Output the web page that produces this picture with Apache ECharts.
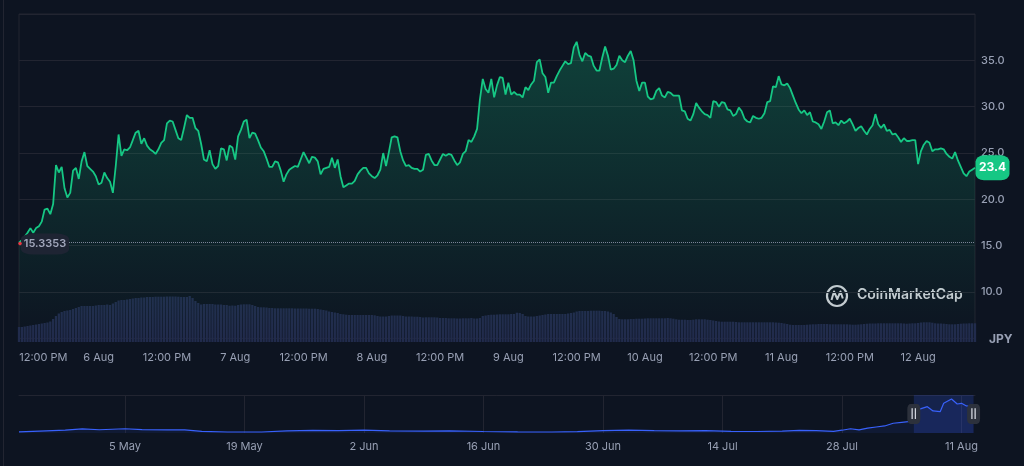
<!DOCTYPE html>
<html>
<head>
<meta charset="utf-8">
<title>JPY price chart</title>
<script src="https://cdn.jsdelivr.net/npm/echarts@6/dist/echarts.min.js"></script>
<style>
  html, body { margin: 0; padding: 0; background: #0d1421; }
  #chart { width: 1024px; height: 466px; }
</style>
</head>
<body>
<div id="chart"></div>
<script>
// price in JPY, one point every 30 min, 5 Aug 10:00 -> 12 Aug 10:00
var price = [
  15.34, 15.6, 16.0, 16.4, 16.9, 16.4, 16.9, 17.1, 17.6, 18.9,
  19.0, 18.4, 19.5, 23.7, 22.9, 23.5, 21.2, 20.2, 20.7, 23.1,
  23.4, 22.2, 24.1, 25.1, 23.6, 23.3, 23.0, 22.5, 21.6, 21.8,
  22.9, 22.3, 21.9, 20.7, 23.6, 27.0, 24.7, 25.4, 25.3, 25.6,
  26.4, 27.2, 27.4, 26.0, 26.6, 25.8, 25.4, 25.2, 24.9, 25.4,
  26.1, 26.4, 28.2, 28.5, 28.4, 27.5, 26.6, 26.4, 27.7, 29.1,
  28.8, 28.8, 27.7, 27.4, 26.0, 24.3, 24.1, 25.3, 23.8, 23.3,
  23.6, 25.5, 25.4, 24.2, 25.8, 25.6, 24.3, 26.8, 27.5, 28.4,
  28.6, 26.6, 27.2, 27.1, 26.4, 25.6, 25.2, 24.4, 23.5, 23.5,
  24.1, 24.0, 23.1, 21.9, 22.7, 23.2, 23.4, 23.6, 23.5, 24.3,
  25.1, 24.5, 23.9, 24.6, 24.5, 24.1, 22.7, 23.3, 23.4, 23.5,
  24.5, 23.4, 24.3, 22.5, 21.3, 21.5, 21.7, 21.7, 22.0, 22.7,
  23.1, 23.4, 23.4, 22.8, 22.5, 22.3, 22.6, 23.2, 25.0, 23.6,
  25.1, 26.7, 26.8, 26.7, 25.2, 24.2, 23.6, 23.7, 23.4, 23.3,
  23.3, 23.0, 23.2, 24.8, 24.9, 24.2, 23.7, 23.7, 24.3, 24.9,
  24.7, 24.9, 24.8, 24.2, 23.7, 24.0, 24.9, 25.2, 26.4, 26.2,
  26.8, 27.6, 30.8, 33.0, 31.9, 31.5, 33.0, 31.0, 32.3, 33.2,
  33.1, 31.3, 32.6, 31.3, 31.6, 31.3, 31.3, 31.0, 32.1, 31.8,
  32.4, 32.8, 34.8, 35.1, 33.6, 33.2, 31.5, 32.6, 32.6, 33.3,
  33.9, 34.4, 34.9, 34.6, 34.7, 36.4, 37.0, 35.6, 34.9, 35.8,
  35.5, 35.4, 34.4, 33.9, 33.9, 35.3, 36.5, 35.5, 34.0, 34.1,
  34.5, 35.5, 35.0, 34.8, 35.5, 36.0, 35.0, 32.8, 31.7, 32.6,
  32.6, 31.1, 30.8, 30.9, 31.7, 32.0, 31.2, 31.0, 31.6, 31.5,
  31.2, 31.2, 31.2, 29.6, 29.5, 28.7, 28.5, 29.2, 30.4, 29.9,
  29.5, 29.2, 29.1, 28.8, 30.6, 30.5, 30.0, 30.5, 30.4, 29.7,
  29.6, 29.0, 29.2, 29.9, 29.5, 28.7, 28.4, 28.3, 29.0, 28.8,
  28.7, 28.8, 29.3, 30.5, 30.6, 32.2, 32.1, 33.3, 32.4, 32.3,
  32.5, 32.0, 31.2, 30.4, 29.7, 29.3, 29.6, 29.1, 29.4, 28.4,
  28.3, 28.1, 27.6, 28.4, 29.4, 29.6, 28.2, 28.3, 28.0, 28.5,
  28.2, 28.4, 28.7, 28.1, 27.4, 27.7, 27.9, 27.4, 27.0, 27.6,
  28.0, 29.2, 28.1, 27.7, 28.1, 27.4, 27.5, 27.0, 27.1, 26.7,
  26.2, 26.6, 26.3, 26.3, 26.4, 26.4, 23.8, 25.2, 25.9, 26.3,
  26.1, 25.2, 25.4, 25.4, 25.5, 25.4, 24.9, 24.6, 24.4, 25.1,
  24.2, 23.5, 22.8, 22.5, 23.0, 23.2, 23.4
];

// volume, same timestamps (relative units)
var volume = [
  15, 15, 15.5, 16, 16.5, 17, 17.5, 18, 18.5, 19,
  19.5, 20.5, 23, 26, 28.5, 30, 31, 31.5, 32, 33,
  34, 35, 36, 36, 36, 36, 36, 36.5, 37, 37,
  37, 37.5, 37, 38.5, 40, 41.5, 42, 42, 42.5, 43,
  43.5, 44, 44, 44.5, 44.5, 45, 45, 45, 45.3, 45.3,
  45.3, 45.3, 45.5, 45.5, 45.5, 45.5, 45.3, 45, 45, 45,
  46, 44, 41, 39, 37.5, 38, 38, 38, 38, 37.5,
  37.5, 37.5, 37, 37, 36.3, 36.5, 36.3, 37, 37.5, 37.7,
  37.7, 37.7, 37, 36, 35, 34.7, 34.7, 34.5, 34, 34,
  33.7, 33.7, 33.7, 33.7, 33.7, 33.7, 33.7, 33.5, 33.5, 33.5,
  33.5, 33.5, 33.3, 33.3, 33.3, 33, 32.5, 32, 31.5, 30.5,
  30, 29.5, 29, 28, 27.7, 27.3, 27, 27, 27, 27,
  27, 27, 27, 27, 27, 26.7, 26, 25.5, 25.5, 25.5,
  26, 26.5, 26.5, 26.5, 26.5, 26, 25.5, 25.5, 25.5, 25.3,
  25.3, 25, 24.5, 24.7, 24.7, 24.7, 24.7, 24.5, 24, 24,
  24, 23.7, 23.7, 23.7, 23.5, 23.5, 23.7, 23.7, 23.7, 24,
  23.5, 23.5, 24, 26, 26.5, 27, 27.3, 27.3, 27.5, 27.7,
  27.7, 27.7, 27.7, 28, 28, 29.3, 29, 28, 26, 25.5,
  25.5, 25.5, 26, 26.5, 27, 27.5, 28, 28, 28, 28,
  28, 28, 28, 28.5, 29, 29.5, 30.5, 31, 31, 31,
  31, 31.3, 31.3, 31.3, 31.3, 31, 31, 30.5, 29.5, 28,
  25, 23, 22.7, 22.7, 22.7, 23, 23, 23.3, 23.3, 23.3,
  23.5, 23.7, 23.7, 23.7, 23.7, 23.7, 23.7, 23.7, 24, 23.7,
  23.3, 22.7, 22.3, 22.3, 22.3, 22, 22, 22.3, 22.7, 22.7,
  22.7, 22.7, 22.3, 22, 21.5, 21, 20.5, 20.3, 20.3, 20.3,
  20.3, 20.3, 20, 19.7, 19.7, 19.7, 19.7, 19.7, 19.7, 19.7,
  19.7, 19.7, 19.7, 19.7, 19.7, 19.7, 19.5, 19.3, 19, 18.5,
  18, 17.3, 17, 17, 17, 17, 17, 17.3, 17.5, 17.7,
  17.7, 18, 18, 18, 18, 17.7, 17.7, 17.7, 17.7, 17.7,
  17.7, 17.7, 17.5, 17.3, 17.3, 17.5, 17.7, 18, 18.3, 18.5,
  18.5, 18.5, 18.7, 18.7, 18.7, 18.7, 18.7, 18.7, 18.7, 18.7,
  18.7, 18.5, 18.3, 18.5, 18.7, 18.7, 19, 19.5, 19.7, 19.7,
  19.7, 19.3, 18.7, 18.5, 18.5, 18.3, 18, 17.7, 17.7, 17.7,
  18, 18.3, 18.5, 18.5, 18.7, 18.7, 18.7
];

// long-range navigator line
var navDates = [
  '2024-04-22 14:00', '2024-04-25', '2024-04-28', '2024-04-30', '2024-05-02', '2024-05-05',
  '2024-05-07', '2024-05-10', '2024-05-12', '2024-05-14', '2024-05-17', '2024-05-21',
  '2024-05-24', '2024-05-27', '2024-05-30', '2024-06-02', '2024-06-05', '2024-06-09',
  '2024-06-12', '2024-06-16', '2024-06-20', '2024-06-24', '2024-06-27', '2024-06-30',
  '2024-07-03', '2024-07-06', '2024-07-09', '2024-07-12', '2024-07-15', '2024-07-18',
  '2024-07-21', '2024-07-23', '2024-07-25', '2024-07-27', '2024-07-28', '2024-07-29',
  '2024-07-30', '2024-07-31', '2024-08-01', '2024-08-02', '2024-08-03', '2024-08-04',
  '2024-08-05', '2024-08-05 10:00', '2024-08-06', '2024-08-07', '2024-08-07 16:00',
  '2024-08-08 12:00', '2024-08-08 22:00', '2024-08-09 20:00', '2024-08-10 12:00',
  '2024-08-11', '2024-08-11 14:00', '2024-08-12 10:00'
];
var navPrice = [
  1.2, 2.0, 3.0, 4.4, 3.5, 4.6,
  3.6, 3.4, 3.4, 1.8, 1.1, 1.1,
  2.2, 2.9, 2.5, 3.2, 2.2, 2.0,
  2.3, 1.6, 1.2, 1.1, 1.4, 2.5,
  3.0, 2.6, 2.3, 2.6, 1.8, 1.6,
  2.0, 2.9, 2.6, 1.8, 3.0, 4.6,
  3.4, 5.2, 6.5, 7.6, 10.5, 11.5,
  12.5, 14.5, 25.5, 28.4, 23.8,
  23.0, 32.0, 36.7, 31.3,
  32.0, 29.2, 28.4
];
var navTickDates = ['2024-05-05', '2024-05-19', '2024-06-02', '2024-06-16', '2024-06-30', '2024-07-14', '2024-07-28', '2024-08-11'];

var startPrice = 15.3353;
var lastPrice = 23.4;

var months = ['Jan', 'Feb', 'Mar', 'Apr', 'May', 'Jun', 'Jul', 'Aug', 'Sep', 'Oct', 'Nov', 'Dec'];
var grey = '#98a0b4';
var gridCol = '#222531';

function pad(n) { return n < 10 ? '0' + n : '' + n; }
function ts(s) {
  var p = s.split(/[- :]/);
  return new Date(+p[0], p[1] - 1, +p[2], +(p[3] || 0), +(p[4] || 0)).getTime();
}

// half-hour category labels
var times = [];
var t0 = ts('2024-08-05 10:00');
for (var i = 0; i < price.length; i++) {
  var d = new Date(t0 + i * 1800000);
  times.push(d.getFullYear() + '-' + pad(d.getMonth() + 1) + '-' + pad(d.getDate()) + ' ' + pad(d.getHours()) + ':' + pad(d.getMinutes()));
}

var navData = navDates.map(function (s, k) { return [ts(s), navPrice[k]]; });
var navTicks = navTickDates.map(ts);
var navMin = ts('2024-04-22 14:00');
var navMax = ts('2024-08-12 14:00');
var winStart = ts('2024-08-05 10:00');
var winEnd = ts('2024-08-12 10:00');

var chart = echarts.init(document.getElementById('chart'));

var option = {
  backgroundColor: '#0d1421',
  animation: false,
  textStyle: { fontFamily: 'Inter, sans-serif' },
  graphic: [
    { type: 'line', shape: { x1: 3.5, y1: 0, x2: 3.5, y2: 466 }, style: { stroke: gridCol, lineWidth: 1 }, silent: true },
    // watermark
    { type: 'circle', shape: { cx: 837, cy: 296, r: 10 }, style: { fill: 'none', stroke: '#c9ccd3', lineWidth: 2.2 }, silent: true },
    { type: 'polyline', shape: { points: [[831.5, 300], [834, 291.5], [837.3, 299], [840.5, 291.5], [842.8, 298.5]] },
      style: { fill: 'none', stroke: '#c9ccd3', lineWidth: 2, lineJoin: 'round' }, silent: true },
    { type: 'text', left: 857, top: 288, style: { text: 'CoinMarketCap', fill: '#c9ccd3', font: '600 14px Inter, sans-serif' }, silent: true },
    { type: 'text', left: 989, top: 333, style: { text: 'JPY', fill: grey, font: '700 12px Inter, sans-serif' }, silent: true }
  ],
  grid: [
    { left: 19, right: 49, top: 14, height: 324.4, show: true, borderColor: gridCol, borderWidth: 1 },
    { left: 19, right: 49, top: 295, height: 47 },
    { left: 19, right: 49, top: 395, height: 38 }
  ],
  xAxis: [
    { gridIndex: 0, type: 'category', data: times, boundaryGap: false, show: false },
    {
      gridIndex: 1, type: 'category', data: times, boundaryGap: false,
      axisLine: { show: false }, axisTick: { show: false }, splitLine: { show: false },
      axisLabel: {
        color: grey, fontSize: 11, margin: 10,
        interval: function (idx, value) {
          var hm = value.slice(11);
          return hm === '00:00' || hm === '12:00';
        },
        formatter: function (value, idx) {
          var hm = value.slice(11);
          if (hm === '12:00') return idx < 24 ? '{first|12:00 PM}' : '12:00 PM';
          return (+value.slice(8, 10)) + ' ' + months[+value.slice(5, 7) - 1];
        },
        rich: { first: { padding: [0, 0, 0, 26], color: grey, fontSize: 11 } }
      }
    },
    {
      gridIndex: 2, type: 'value', min: navMin, max: navMax,
      axisLine: { show: false },
      axisTick: { show: false, customValues: navTicks },
      splitLine: { show: true, lineStyle: { color: gridCol } },
      axisLabel: {
        customValues: navTicks, color: grey, fontSize: 11, margin: 8,
        formatter: function (v) { var d = new Date(v); return d.getDate() + ' ' + months[d.getMonth()]; }
      }
    },
    {
      gridIndex: 2, type: 'value', position: 'top', min: navMin, max: navMax,
      axisLine: { show: true, lineStyle: { color: gridCol } },
      axisTick: { show: false }, axisLabel: { show: false }, splitLine: { show: false }
    }
  ],
  yAxis: [
    {
      gridIndex: 0, type: 'value', position: 'right', min: 5, max: 40, interval: 5,
      axisLine: { show: false }, axisTick: { show: false },
      splitLine: { lineStyle: { color: gridCol } },
      axisLabel: {
        color: grey, fontSize: 11, fontWeight: 500, margin: 6,
        formatter: function (v) { return (v === 5 || v === 40) ? '' : v.toFixed(1); }
      }
    },
    { gridIndex: 1, type: 'value', min: 0, max: 47, show: false },
    { gridIndex: 2, type: 'value', min: 0, max: 41, show: false }
  ],
  series: [
    {
      name: 'Volume', type: 'bar', xAxisIndex: 1, yAxisIndex: 1,
      data: volume, barWidth: '80%', itemStyle: { color: '#212b4c' }, silent: true
    },
    {
      name: 'Price', type: 'line', xAxisIndex: 0, yAxisIndex: 0,
      data: price, showSymbol: false, symbol: 'none', silent: true,
      lineStyle: { color: '#16c784', width: 1.8 },
      areaStyle: {
        color: new echarts.graphic.LinearGradient(0, 0, 0, 1, [
          { offset: 0, color: 'rgba(22,199,132,0.36)' },
          { offset: 1, color: 'rgba(22,199,132,0)' }
        ])
      },
      markLine: {
        silent: true, symbol: ['none', 'none'],
        lineStyle: { color: '#7c8497', type: 'dotted', width: 1 },
        label: { show: false },
        data: [{ yAxis: startPrice }]
      },
      markPoint: {
        silent: true,
        data: [
          {
            coord: [times[0], startPrice], symbol: 'roundRect', symbolSize: [48, 21], symbolOffset: [26, 1.5],
            itemStyle: { color: '#1e2433' },
            label: { show: true, formatter: String(startPrice), color: '#a1a7bb', fontSize: 11, fontWeight: 600 }
          },
          {
            coord: [times[0], startPrice], symbol: 'circle', symbolSize: 3.5, symbolOffset: [1, 1],
            itemStyle: { color: '#ea3943' }, label: { show: false }
          },
          {
            coord: [times[times.length - 1], lastPrice], symbol: 'roundRect', symbolSize: [34, 25], symbolOffset: [17.5, 0],
            itemStyle: { color: '#16c784' },
            label: { show: true, formatter: lastPrice.toFixed(1), color: '#ffffff', fontSize: 12, fontWeight: 700 }
          }
        ]
      }
    },
    {
      name: 'History', type: 'line', xAxisIndex: 2, yAxisIndex: 2,
      data: navData, showSymbol: false, symbol: 'none', silent: true,
      lineStyle: { color: '#3861fb', width: 1.2 },
      areaStyle: { color: 'rgba(56,97,251,0.12)' },
      markArea: {
        silent: true,
        itemStyle: { color: 'rgba(56,97,251,0.2)' },
        data: [[{ xAxis: winStart }, { xAxis: winEnd }]]
      },
      markPoint: {
        silent: true,
        symbol: 'roundRect', symbolSize: [13, 20],
        itemStyle: { color: '#2c313c' },
        label: { show: true, formatter: '||', color: '#d0d4dc', fontSize: 9, fontWeight: 700 },
        data: [{ coord: [winStart, 20.5] }, { coord: [winEnd, 20.5] }]
      }
    }
  ]
};

chart.setOption(option);
</script>
</body>
</html>
